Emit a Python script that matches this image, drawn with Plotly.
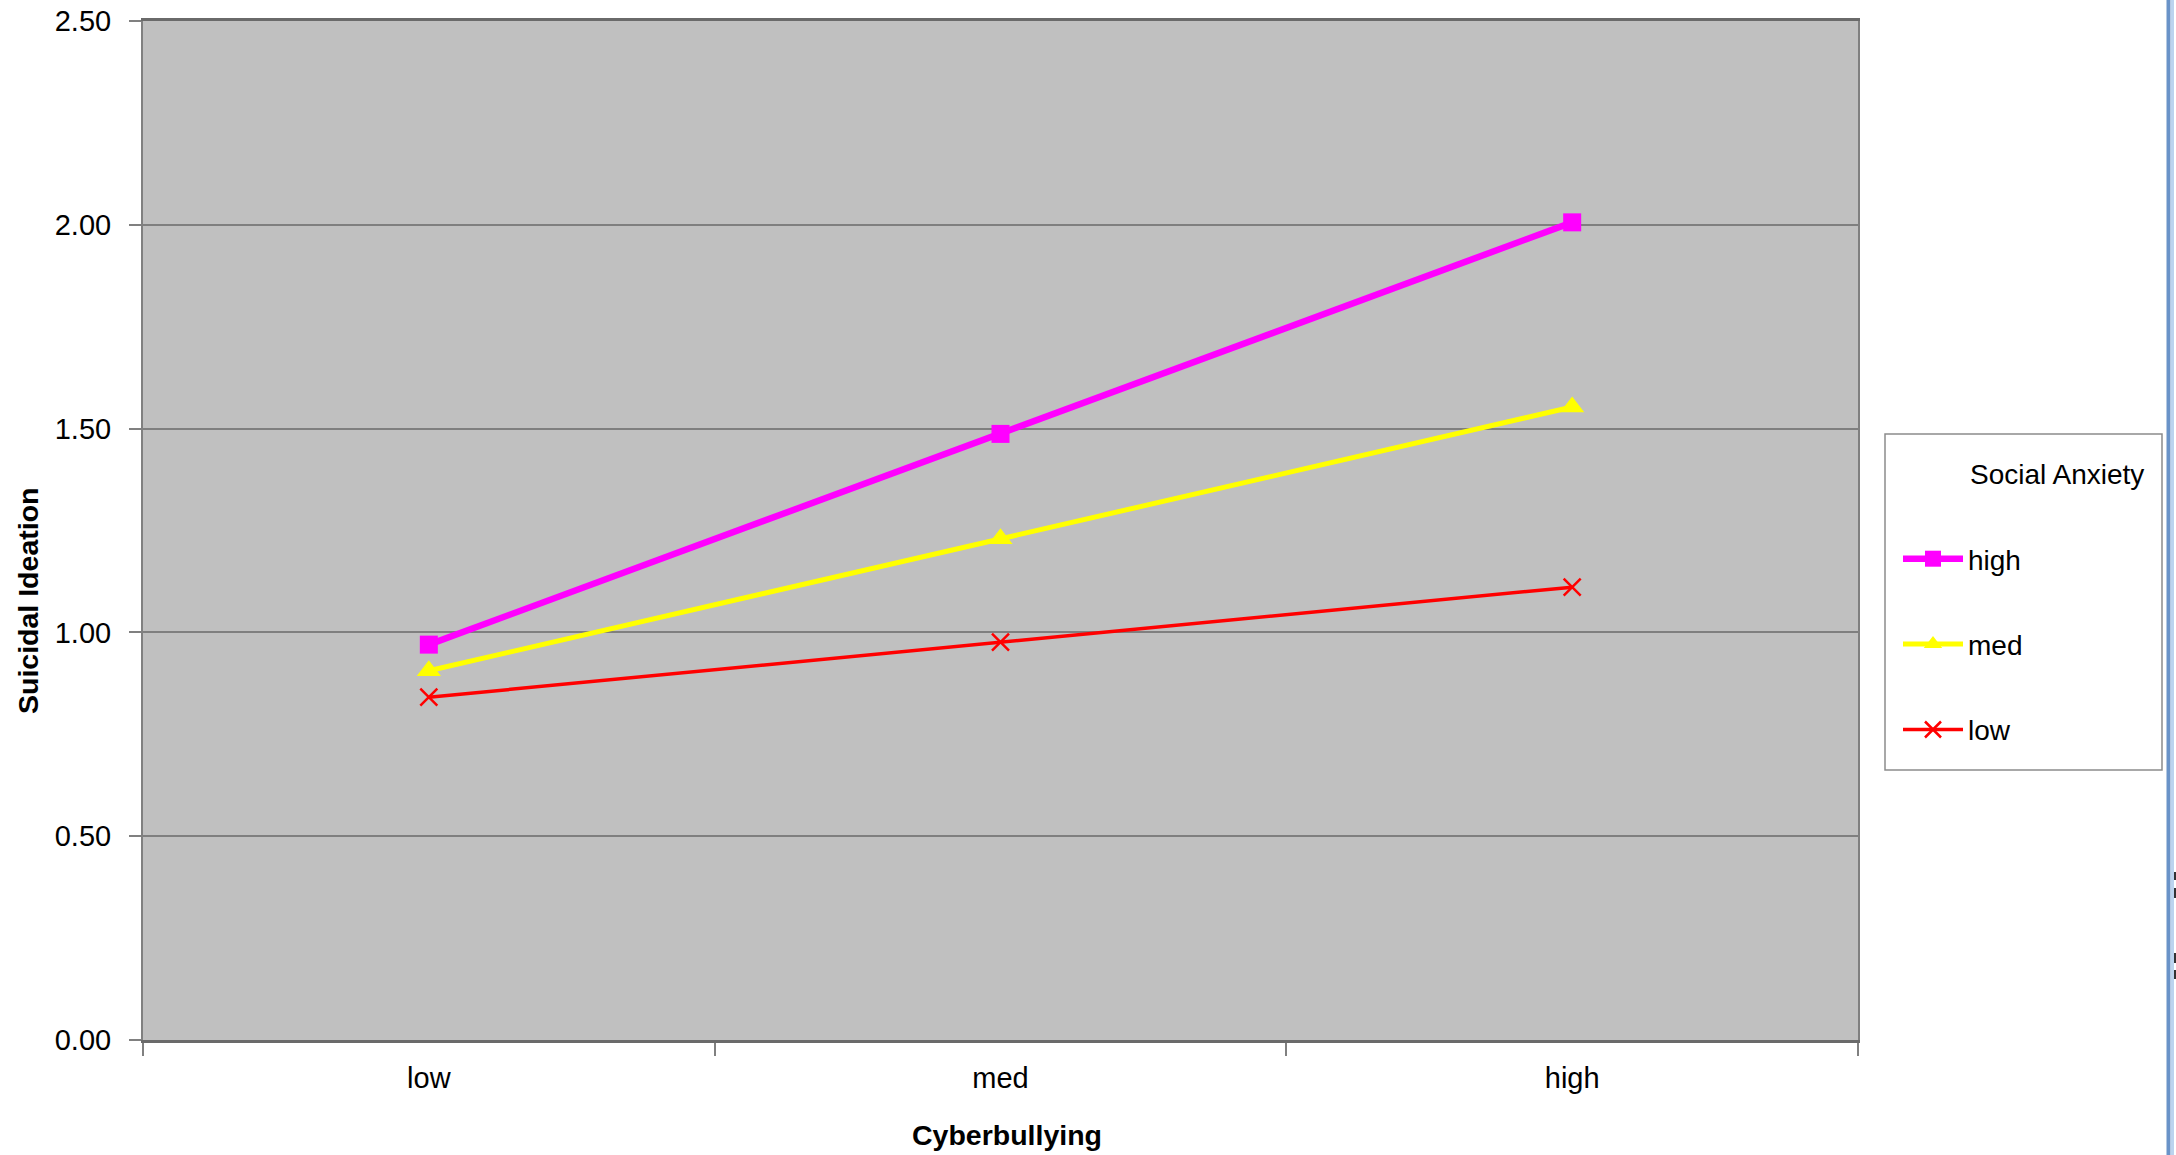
import plotly.graph_objects as go

# ---- data ----
categories = ["low", "med", "high"]
series_names = ["high", "med", "low"]
high_vals = [0.970, 1.487, 2.006]
med_vals = [0.906, 1.230, 1.553]
low_vals = [0.841, 0.976, 1.111]
y_ticks = [0.0, 0.5, 1.0, 1.5, 2.0, 2.5]
y_tick_labels = ["0.00", "0.50", "1.00", "1.50", "2.00", "2.50"]
legend_title = "Social Anxiety"

FONT = "Liberation Sans, Arial, Helvetica, sans-serif"
W, H = 2176, 1155
L, R, T, B = 143, 318, 21, 115      # in window pixels
PW, PH = W - L - R, H - T - B


def px_x(px):
    return (px - L) / PW


def px_y(py):
    return (H - B - py) / PH


fig = go.Figure()

styles = {
    "high": dict(color="#FF00FF", width=6.5, symbol="square", size=18, lw=0),
    "med": dict(color="#FFFF00", width=5, symbol="triangle-up", size=21, lw=0),
    "low": dict(color="#FF0000", width=3.5, symbol="x-thin", size=17, lw=2.5),
}
values = {"high": high_vals, "med": med_vals, "low": low_vals}

for name in series_names:
    s = styles[name]
    fig.add_trace(go.Scatter(
        x=categories, y=values[name], name=name, mode="lines+markers",
        legendgroup=name,
        line=dict(color=s["color"], width=s["width"]),
        marker=dict(symbol=s["symbol"], size=s["size"], color=s["color"],
                    line=dict(color=s["color"], width=s["lw"])),
    ))

fig.update_layout(
    width=W, height=H,
    margin=dict(l=L, r=R, t=T, b=B, autoexpand=False),
    paper_bgcolor="white",
    plot_bgcolor="#C0C0C0",
    font=dict(family=FONT, size=29, color="black"),
    showlegend=True,
    legend=dict(
        font=dict(family=FONT, size=28),
        x=px_x(1898), xanchor="left",
        y=px_y(534), yanchor="top",
        bgcolor="rgba(0,0,0,0)", borderwidth=0,
        itemwidth=60, tracegroupgap=46,
    ),
)

fig.update_xaxes(
    type="category", range=[-0.5, 2.5],
    tickson="boundaries", ticks="outside", ticklen=13, tickcolor="#808080", tickwidth=1.5,
    showgrid=False, zeroline=False,
    showline=True, linecolor="#6A6A6A", linewidth=3, mirror=True,
    tickfont=dict(family=FONT, size=29), ticklabelstandoff=10,
)
fig.update_yaxes(
    range=[0, 2.5], tickvals=y_ticks, ticktext=y_tick_labels,
    ticks="outside", ticklen=12, tickcolor="#808080", tickwidth=1.5,
    showgrid=True, gridcolor="#7F7F7F", gridwidth=1.5, zeroline=False,
    showline=True, linecolor="#808080", linewidth=2, mirror=True,
    tickfont=dict(family=FONT, size=29), ticklabelstandoff=12,
    ticklabeloverflow="allow",
)

# legend box
fig.add_shape(type="rect", xref="paper", yref="paper",
              x0=px_x(1885), x1=px_x(2162), y0=px_y(770), y1=px_y(434),
              line=dict(color="#8C8C8C", width=1.5), fillcolor="white", layer="below")
# legend title
fig.add_annotation(text=legend_title, xref="paper", yref="paper",
                   x=px_x(1968), y=px_y(475), showarrow=False,
                   font=dict(family=FONT, size=28), xanchor="left", yanchor="middle")

# right window edge (blue)
fig.add_shape(type="line", xref="paper", yref="paper",
              x0=px_x(2168.5), x1=px_x(2168.5), y0=px_y(0), y1=px_y(H),
              line=dict(color="#6A93C8", width=4))
fig.add_shape(type="line", xref="paper", yref="paper",
              x0=px_x(2172.5), x1=px_x(2172.5), y0=px_y(0), y1=px_y(H),
              line=dict(color="#BBD3EE", width=3))
for (ya, yb) in [(872, 880), (888, 898), (953, 963), (970, 979)]:
    fig.add_shape(type="rect", xref="paper", yref="paper",
                  x0=px_x(2174), x1=px_x(2176), y0=px_y(yb), y1=px_y(ya),
                  line=dict(width=0), fillcolor="#333333")

# axis titles
fig.add_annotation(text="<b>Suicidal Ideation</b>", xref="paper", yref="paper",
                   x=px_x(28), y=px_y(601), textangle=-90, showarrow=False,
                   font=dict(family=FONT, size=28.5), xanchor="center", yanchor="middle")
fig.add_annotation(text="<b>Cyberbullying</b>", xref="paper", yref="paper",
                   x=px_x(1007), y=px_y(1135), showarrow=False,
                   font=dict(family=FONT, size=28.5), xanchor="center", yanchor="middle")

fig.write_html("out.html",
               config={"displayModeBar": False, "displaylogo": False},
               post_script="document.body.style.margin='0px';document.body.style.overflow='hidden';")
